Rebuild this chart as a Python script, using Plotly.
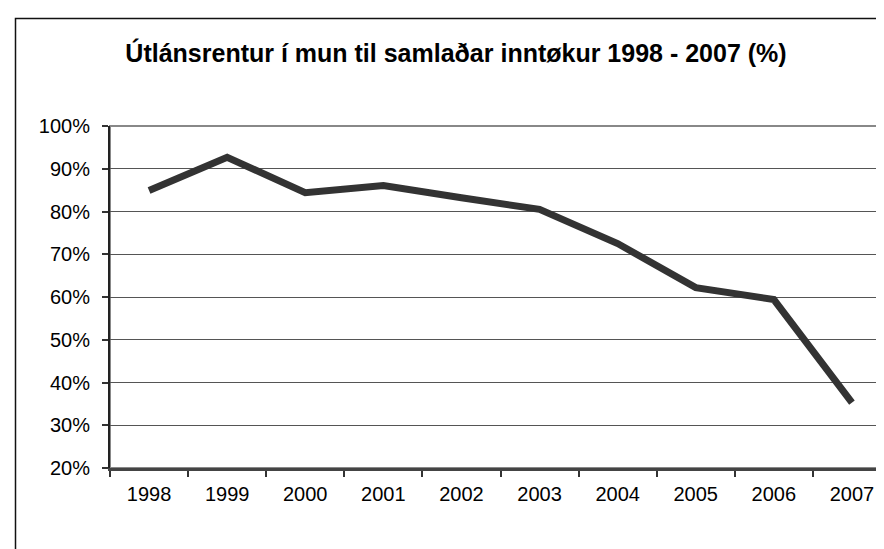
import plotly.graph_objects as go

years = ["1998", "1999", "2000", "2001", "2002", "2003", "2004", "2005", "2006", "2007"]
values = [84.9, 92.7, 84.4, 86.1, 83.2, 80.5, 72.5, 62.2, 59.4, 35.3]
title_text = "Útlánsrentur í mun til samlaðar inntøkur 1998 - 2007 (%)"

W, H = 884, 549
L, R, T, B = 102, 1, 118, 89
pw, ph = W - L - R, H - T - B

def px_x(px):
    return (px - L) / pw

def px_y(py):
    return (H - B - py) / ph

FONT = "Liberation Sans, Arial, sans-serif"

fig = go.Figure()
fig.add_trace(go.Scatter(
    x=years, y=values, mode="lines",
    line=dict(color="#333333", width=7),
    hoverinfo="skip", showlegend=False,
))

fig.update_layout(
    width=W, height=H,
    margin=dict(l=L, r=R, t=T, b=B, pad=0),
    paper_bgcolor="white", plot_bgcolor="white",
    font=dict(family=FONT, size=20, color="black"),
    title=dict(
        text="<b>" + title_text + "</b>",
        font=dict(family=FONT, size=25, color="black"),
        xref="paper", x=px_x(448), xanchor="center",
        yref="container", y=1 - 45 / H, yanchor="middle",
    ),
    xaxis=dict(
        type="category", range=[-0.5, 9.5],
        tickson="boundaries", ticks="outside", ticklen=6, tickwidth=1.5,
        tickcolor="#333333",
        showline=True, linecolor="#444444", linewidth=2.5,
        showgrid=False, zeroline=False, ticklabelstandoff=6,
        tickfont=dict(family=FONT, size=20, color="black"),
    ),
    yaxis=dict(
        range=[20, 100], dtick=10, tick0=20,
        ticksuffix="%", ticks="outside", ticklen=6, tickwidth=1.5,
        tickcolor="#333333",
        showline=True, linecolor="#222222", linewidth=2,
        showgrid=True, gridcolor="#555555", gridwidth=1,
        zeroline=False, ticklabelstandoff=8,
        tickfont=dict(family=FONT, size=20, color="black"),
    ),
    shapes=[
        dict(type="rect", xref="paper", yref="paper",
             x0=0, x1=1, y0=0, y1=1,
             line=dict(color="#888888", width=2), layer="below"),
        dict(type="rect", xref="paper", yref="paper",
             x0=px_x(7.5), x1=px_x(900), y0=px_y(10.5), y1=px_y(570),
             line=dict(color="#111111", width=1.5), layer="below"),
    ],
)

fig.write_html("out.html")
